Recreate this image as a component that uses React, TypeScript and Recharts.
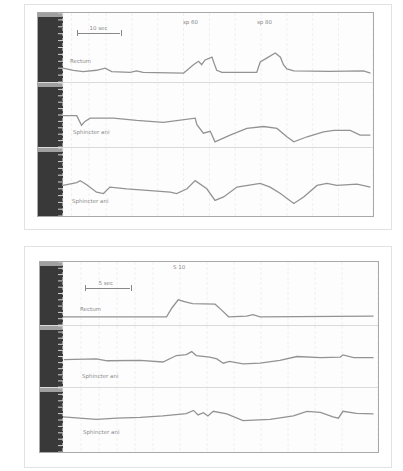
import { CartesianGrid, Line, LineChart, XAxis, YAxis } from "recharts";

// upper recording (72 s window)
const p1RectumT = [0, 2.4, 4.7, 7.8, 9.8, 11.3, 15.6, 17.1, 18.6, 28, 28.8, 30.3, 31.5, 32.2, 33, 34.6, 35.1, 35.7, 36.9, 45, 45.8, 47.4, 49.3, 50.5, 51.2, 52, 53.6, 62, 69.8, 71.4];
const p1RectumV = [20, 17, 15, 17, 20, 15, 14, 16, 14, 13, 17, 25, 30, 25, 32, 36, 27, 17, 14, 14, 29, 35, 42, 36, 25, 19, 16, 15.5, 16, 13];
const p1Sph1T = [0, 3.2, 4.3, 5.1, 6.3, 11.7, 17.1, 23.3, 30.7, 31.1, 32.6, 34.2, 35.3, 38.8, 42.7, 46.6, 49.7, 52, 53.6, 56.7, 60.5, 62.9, 66.7, 69, 71.4];
const p1Sph1V = [49, 49, 34, 40, 45, 45, 41.5, 38.5, 45, 35, 21.5, 24.6, 8, 18.5, 29, 32, 29, 16, 8, 16, 23.5, 26, 26, 18.5, 18.5];
const p1Sph2T = [0, 3.2, 4, 5.5, 7.8, 9.4, 10.9, 14.8, 19.5, 24.9, 26.4, 28.8, 30.7, 33.4, 35.3, 37.3, 40.4, 45.8, 48.1, 50.5, 53.6, 55.9, 59, 61.3, 63.6, 68.3, 71.4];
const p1Sph2V = [45, 49, 52, 46, 35, 33, 42.5, 40, 37.7, 35, 33, 40, 52, 40, 23, 28, 42.5, 48, 42.5, 33, 18.4, 28, 45, 48, 45, 47, 42.5];

// lower recording (35 s window)
const p2RectumT = [0, 11.5, 12.1, 12.8, 13.7, 14.4, 16.9, 17.6, 18.4, 20.4, 21.1, 21.9, 34.5];
const p2RectumV = [13, 13, 27, 40, 36.5, 34, 33, 24, 13, 14, 16.5, 13, 14];
const p2Sph1T = [0.1, 3.7, 4.9, 8.6, 11.1, 12.6, 13.7, 14.3, 14.8, 16.3, 17.1, 17.8, 18.5, 20, 21.9, 24.1, 26, 28.6, 30.8, 31.1, 32.3, 34.5];
const p2Sph1V = [45, 46, 43, 43.5, 41, 51.6, 53, 58, 51.6, 49, 46, 39, 42, 38, 39, 43.5, 50, 48, 49, 52.7, 48, 48];
const p2Sph2T = [0, 3.7, 6, 8.6, 11.1, 13.7, 14.5, 15, 15.6, 16.1, 16.7, 18.2, 20, 23, 25.6, 27.1, 28.6, 30, 30.6, 31.1, 32.6, 34.5];
const p2Sph2V = [55, 51, 52.8, 54, 56.4, 60, 65, 58, 61.5, 56.4, 63.6, 59.5, 49, 51, 56.4, 63.6, 62, 55, 52.8, 63.6, 60.5, 59.5];

const scaleTicks = [0, 10, 20, 30, 40, 50, 60, 70, 80, 90, 100];
const p1Grid = Array.from({ length: 37 }, (_, i) => i * 2);
const p2Grid = Array.from({ length: 36 }, (_, i) => i);

const TRACE = "#939393";
const TEXT = "#8a8a8a";

type Channel = { t: number[]; v: number[]; height: number };

const ChannelChart = ({
  ch,
  barW,
  plotW,
  xMax,
  grid,
}: {
  ch: Channel;
  barW: number;
  plotW: number;
  xMax: number;
  grid: number[];
}) => {
  const data = ch.t.map((t, i) => ({ t, v: ch.v[i] }));
  return (
    <div style={{ position: "relative", width: barW + plotW, height: ch.height }}>
      <div style={{ position: "absolute", left: 0, top: 0, width: barW, height: ch.height, background: "#393939" }} />
      <div style={{ position: "absolute", left: 0, top: 0, width: barW, height: 4, background: "#a0a0a0" }} />
      <LineChart
        width={barW + plotW}
        height={ch.height}
        data={data}
        margin={{ top: 0, right: 0, bottom: 0, left: 0 }}
        style={{ position: "absolute", left: 0, top: 0 }}
      >
        <CartesianGrid horizontal={false} stroke="#f0f0f0" strokeDasharray="3 2" />
        <XAxis type="number" dataKey="t" domain={[0, xMax]} ticks={grid} hide />
        <YAxis
          domain={[0, 100]}
          ticks={scaleTicks}
          width={barW}
          axisLine={false}
          tickLine={{ stroke: "#d0d0d0" }}
          tickSize={5}
          tickFormatter={() => ""}
        />
        <Line
          dataKey="v"
          type="linear"
          stroke={TRACE}
          strokeWidth={1.3}
          dot={false}
          isAnimationActive={false}
        />
      </LineChart>
    </div>
  );
};

const Panel = ({
  left,
  top,
  barW,
  plotW,
  xMax,
  grid,
  channels,
}: {
  left: number;
  top: number;
  barW: number;
  plotW: number;
  xMax: number;
  grid: number[];
  channels: Channel[];
}) => (
  <div
    style={{
      position: "absolute",
      left,
      top,
      border: "1px solid #a8a8a8",
      background: "#fdfdfd",
    }}
  >
    {channels.map((ch, i) => (
      <div key={i} style={{ borderTop: i > 0 ? "1px solid #dadada" : "none" }}>
        <ChannelChart ch={ch} barW={barW} plotW={plotW} xMax={xMax} grid={grid} />
      </div>
    ))}
  </div>
);

const Txt = ({ x, y, children, size = 5.5 }: { x: number; y: number; children: React.ReactNode; size?: number }) => (
  <div
    style={{
      position: "absolute",
      left: x,
      top: y,
      fontSize: size,
      color: TEXT,
      fontFamily: "DejaVu Sans, sans-serif",
      whiteSpace: "nowrap",
      lineHeight: 1,
    }}
  >
    {children}
  </div>
);

const ScaleBar = ({ x, y, w, label }: { x: number; y: number; w: number; label: string }) => (
  <>
    <div
      style={{
        position: "absolute",
        left: x,
        top: y - 3,
        width: w,
        height: 6,
        borderLeft: "1px solid #888",
        borderRight: "1px solid #888",
      }}
    />
    <div style={{ position: "absolute", left: x, top: y, width: w, height: 0, borderTop: "1px solid #888" }} />
    <Txt x={x + w / 2 - 9} y={y - 7}>
      {label}
    </Txt>
  </>
);

export default function App() {
  return (
    <div style={{ position: "fixed", left: 0, top: 0, width: 403, height: 471, background: "#ffffff" }}>
      <div style={{ position: "absolute", left: 24, top: 4, width: 366, height: 224, border: "1px solid #e2e2e2" }} />
      <div style={{ position: "absolute", left: 24, top: 246, width: 366, height: 220, border: "1px solid #e2e2e2" }} />

      <Panel
        left={37}
        top={12}
        barW={25}
        plotW={310}
        xMax={72}
        grid={p1Grid}
        channels={[
          { t: p1RectumT, v: p1RectumV, height: 69 },
          { t: p1Sph1T, v: p1Sph1V, height: 64 },
          { t: p1Sph2T, v: p1Sph2V, height: 68 },
        ]}
      />
      <ScaleBar x={77} y={33} w={43} label="10 sec" />
      <Txt x={183} y={20}>sp 60</Txt>
      <Txt x={257} y={20}>sp 80</Txt>
      <Txt x={70} y={59}>Rectum</Txt>
      <Txt x={73} y={130}>Sphincter ani</Txt>
      <Txt x={72} y={199}>Sphincter ani</Txt>

      <Panel
        left={39}
        top={261}
        barW={23}
        plotW={315}
        xMax={35}
        grid={p2Grid}
        channels={[
          { t: p2RectumT, v: p2RectumV, height: 63 },
          { t: p2Sph1T, v: p2Sph1V, height: 61 },
          { t: p2Sph2T, v: p2Sph2V, height: 64 },
        ]}
      />
      <ScaleBar x={85} y={288} w={45} label="5 sec" />
      <Txt x={173} y={265}>S 10</Txt>
      <Txt x={80} y={307}>Rectum</Txt>
      <Txt x={82} y={374}>Sphincter ani</Txt>
      <Txt x={83} y={430}>Sphincter ani</Txt>
    </div>
  );
}
